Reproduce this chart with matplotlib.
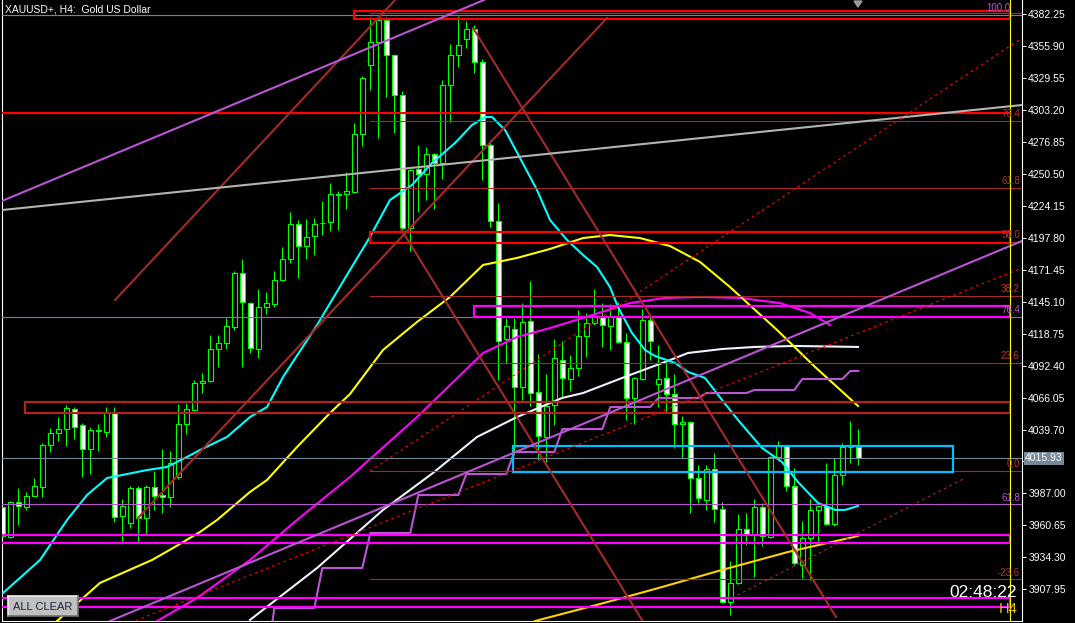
import numpy as np
import matplotlib
matplotlib.use("Agg")
import matplotlib.pyplot as plt
import matplotlib.transforms as mtransforms
from matplotlib.patches import Rectangle, Polygon
from matplotlib.lines import Line2D

plt.rcParams['font.family'] = ['Liberation Sans', 'DejaVu Sans']

# XAUUSD+ H4 candles, oldest first (bar index 0..107)
opens = [3975.8, 3951.1, 3980.0, 3975.8, 3984.9, 3992.3, 4027.0, 4036.9, 4040.1, 4056.6,
         4043.4, 4023.7, 4038.5, 4037.7, 4054.2, 3968.4, 3962.6, 3991.5, 3966.8, 3992.3,
         3985.7, 3984.1, 4000.6, 4044.3, 4055.8, 4078.1, 4079.7, 4106.1, 4111.1, 4124.3,
         4168.8, 4144.0, 4106.1, 4140.7, 4143.2, 4163.0, 4180.3, 4209.2, 4191.0, 4199.3,
         4209.6, 4210.8, 4233.5, 4233.9, 4235.6, 4283.4, 4340.3, 4359.3, 4377.4, 4348.5,
         4315.6, 4205.9, 4254.5, 4250.4, 4266.9, 4259.5, 4323.8, 4348.5, 4361.7, 4370.0,
         4342.8, 4274.3, 4211.7, 4114.4, 4122.6, 4074.8, 4129.2, 4070.7, 4033.6, 4059.9,
         4097.0, 4081.4, 4090.4, 4116.8, 4127.6, 4132.5, 4125.1, 4132.5, 4111.9, 4065.7,
         4081.4, 4130.0, 4077.3, 4082.2, 4069.0, 4044.3, 4045.9, 3999.7, 3981.6, 4007.2,
         3974.2, 3897.5, 3913.2, 3957.7, 3952.7, 3975.8, 3951.1, 4017.1, 4026.1, 3993.1,
         3928.0, 3950.3, 3973.4, 3976.7, 3961.8, 4002.2, 4024.9, 4025.3]
highs = [3979.1, 3980.8, 3991.5, 3988.2, 3999.7, 4028.6, 4041.0, 4050.0, 4059.9, 4058.3,
         4045.1, 4041.8, 4044.3, 4058.3, 4058.3, 3982.4, 3993.1, 3993.1, 3994.0, 4005.5,
         4023.7, 4022.0, 4060.8, 4061.6, 4080.5, 4086.3, 4117.7, 4117.7, 4131.7, 4170.4,
         4180.3, 4144.9, 4155.6, 4153.1, 4170.4, 4190.2, 4219.1, 4212.5, 4213.3, 4214.1,
         4228.2, 4243.0, 4236.4, 4252.1, 4292.5, 4331.2, 4379.9, 4379.9, 4379.9, 4349.4,
         4318.9, 4254.5, 4274.3, 4272.7, 4267.7, 4327.9, 4357.6, 4380.7, 4376.6, 4373.3,
         4345.3, 4278.5, 4226.5, 4131.7, 4131.7, 4144.0, 4162.2, 4102.0, 4085.5, 4114.4,
         4112.7, 4101.2, 4138.3, 4135.8, 4155.6, 4144.0, 4143.2, 4144.9, 4119.3, 4083.0,
         4139.1, 4132.5, 4109.4, 4094.6, 4085.5, 4050.9, 4046.7, 4010.5, 4010.5, 4020.4,
         3980.0, 3931.3, 3970.1, 3970.9, 3982.4, 3979.1, 4017.9, 4030.3, 4027.0, 4008.0,
         3964.3, 3982.4, 3977.5, 4012.1, 4016.2, 4028.6, 4046.7, 4040.1]
lows = [3950.3, 3950.3, 3961.0, 3973.4, 3984.9, 3984.1, 4021.2, 4030.3, 4026.1, 4031.9,
        4000.6, 4003.0, 4022.0, 4033.6, 3963.5, 3945.3, 3958.5, 3947.0, 3952.7, 3973.4,
        3970.9, 3975.8, 3998.9, 4036.0, 4055.0, 4069.8, 4078.9, 4091.3, 4106.1, 4121.8,
        4091.3, 4102.8, 4098.7, 4135.0, 4140.7, 4162.2, 4177.0, 4164.7, 4180.3, 4183.6,
        4200.1, 4203.4, 4204.2, 4221.6, 4234.8, 4273.5, 4319.7, 4280.1, 4313.9, 4284.2,
        4201.8, 4186.9, 4219.1, 4229.0, 4221.6, 4246.3, 4293.3, 4338.7, 4354.3, 4333.7,
        4245.5, 4206.7, 4080.5, 4094.6, 4018.7, 4064.1, 4059.1, 4014.6, 4012.9, 4043.4,
        4065.7, 4071.5, 4083.9, 4099.5, 4125.9, 4107.8, 4105.3, 4111.1, 4047.6, 4044.3,
        4080.5, 4097.0, 4058.3, 4054.2, 4024.5, 4016.2, 3970.9, 3979.1, 3973.4, 3963.5,
        3896.7, 3886.8, 3912.3, 3944.5, 3918.1, 3943.7, 3950.3, 4016.2, 3989.0, 3928.0,
        3917.3, 3915.6, 3947.0, 3961.0, 3960.2, 3994.0, 4012.1, 4010.5]
closes = [3951.9, 3980.0, 3976.7, 3984.9, 3993.1, 4027.0, 4036.9, 4040.1, 4057.5, 4041.8,
          4023.7, 4039.3, 4039.3, 4054.2, 3967.6, 3976.7, 3991.5, 3966.8, 3992.3, 3984.9,
          3984.1, 4012.1, 4044.3, 4056.6, 4078.1, 4079.7, 4106.1, 4111.1, 4125.1, 4168.8,
          4144.9, 4106.9, 4140.7, 4144.0, 4163.0, 4180.3, 4209.2, 4191.0, 4198.5, 4209.2,
          4210.4, 4233.9, 4233.9, 4236.4, 4283.4, 4329.6, 4359.3, 4377.4, 4348.5, 4315.6,
          4205.9, 4253.7, 4250.4, 4266.9, 4259.5, 4323.8, 4348.5, 4356.8, 4370.0, 4342.8,
          4274.3, 4211.7, 4112.7, 4125.1, 4074.8, 4128.4, 4069.8, 4034.4, 4059.1, 4098.7,
          4082.2, 4090.4, 4116.8, 4127.6, 4132.5, 4125.9, 4132.5, 4111.9, 4065.7, 4082.2,
          4130.0, 4112.7, 4081.4, 4069.0, 4044.3, 4045.9, 3999.7, 3983.3, 4007.2, 3974.2,
          3897.5, 3913.2, 3957.7, 3952.7, 3975.8, 3951.9, 4017.1, 4026.1, 3993.1, 3929.7,
          3950.3, 3973.4, 3976.7, 3961.8, 4002.2, 4025.3, 4025.3, 4015.93]
last_price = 4015.93

# moving averages (bar index, price)
cyan_x = [0.09, 4.71, 8.09, 10.59, 13.09, 18.09, 20.59, 23.09, 24.71, 28.09,
          30.96, 33.09, 35.09, 39.34, 43.46, 45.96, 48.46, 51.21, 53.71, 56.59,
          58.71, 60.34, 61.21, 62.84, 64.71, 66.84, 68.46, 70.59, 72.59, 74.34,
          75.96, 76.96, 78.71, 80.34, 81.59, 84.09, 85.71, 87.84, 89.96, 91.96,
          94.96, 97.46, 99.46, 101.96, 104.09, 105.34, 106.96]
cyan_y = [3904.9, 3932.1, 3965.1, 3985.7, 3999.7, 4006.3, 4008.8, 4017.1, 4022.8, 4033.6,
          4050.0, 4058.3, 4083.0, 4125.9, 4171.3, 4198.5, 4229.0, 4241.4, 4259.5, 4276.0,
          4290.8, 4297.4, 4297.4, 4286.7, 4263.6, 4237.2, 4212.5, 4196.0, 4183.6, 4173.7,
          4157.2, 4140.7, 4119.3, 4105.3, 4100.3, 4094.6, 4087.2, 4082.2, 4064.1, 4047.6,
          4024.5, 4012.9, 3996.4, 3979.1, 3973.4, 3973.4, 3976.7]
yellow_x = [6.84, 12.21, 18.71, 21.34, 24.71, 26.84, 30.96, 33.09, 36.84, 40.96,
            43.46, 47.59, 51.84, 55.96, 60.09, 64.34, 68.46, 72.59, 75.96, 79.71,
            83.46, 87.21, 90.96, 94.09, 96.84, 101.59, 106.96]
yellow_y = [3881.8, 3913.2, 3932.1, 3942.0, 3955.2, 3965.1, 3988.2, 3998.1, 4025.3, 4053.3,
            4069.0, 4105.3, 4128.4, 4149.0, 4175.4, 4181.2, 4188.6, 4197.6, 4200.1, 4197.6,
            4191.0, 4177.9, 4157.2, 4138.3, 4121.8, 4091.3, 4059.1]
magenta_x = [19.34, 24.34, 30.96, 36.84, 43.46, 51.84, 60.09, 64.34, 68.46, 72.59,
             78.46, 82.84, 87.21, 92.21, 97.21, 100.96, 103.46]
magenta_y = [3881.8, 3900.8, 3932.1, 3965.1, 4000.6, 4050.0, 4102.8, 4116.0, 4123.4, 4131.7,
             4144.0, 4148.2, 4149.0, 4148.2, 4144.0, 4135.8, 4125.9]
white_x = [30.96, 39.34, 47.59, 53.84, 59.34, 64.34, 69.96, 72.59, 78.46, 82.84,
           85.71, 89.96, 94.09, 99.09, 106.96]
white_y = [3882.7, 3925.5, 3973.4, 4003.9, 4033.6, 4050.0, 4065.7, 4069.8, 4084.7, 4095.4,
           4102.8, 4106.1, 4107.8, 4108.6, 4107.8]
gold_x = [66.59, 74.71, 81.59, 89.96, 98.21, 106.96]
gold_y = [3881.8, 3895.8, 3908.2, 3923.9, 3938.7, 3951.9]

# stepped trailing line: bar where each step starts, and its level
step_start = [34, 40, 46, 52, 58, 64, 70, 76, 82, 88, 94, 100, 106]
step_level = [3892.5, 3925.5, 3954.4, 3985.7, 4003.0, 4021.2, 4040.1, 4058.3,
              4065.7, 4069.8, 4072.3, 4081.4, 4088.0]

# rectangles: left bar, right bar, low, high
rect_left = [44.0, 45.96, 2.84, 58.9, 63.84, -1.0, -1.0]
rect_right = [125.96, 125.96, 125.96, 125.96, 118.84, 125.96, 125.96]
rect_low = [4378.2, 4193.5, 4053.3, 4132.1, 4004.7, 3946.1, 3893.4]
rect_high = [4384.8, 4202.6, 4062.4, 4141.6, 4026.1, 3952.7, 3900.8]
rect_colors = ['#ff0000', '#ff0000', '#b22222', '#ff00ff', '#00bfff', '#ff00ff', '#ff00ff']

red_hline = 4300.7
vline_bar = 125.96

# trend lines: (bar0, price0, bar1, price1)
brown_lines = [(14.09, 4146.5, 49.09, 4393.9), (16.96, 3966.8, 75.59, 4379.1),
               (58.84, 4370.8, 104.21, 3885.1), (49.84, 4205.1, 79.96, 3882.6)]
orchid_lines = [(-0.04, 4228.2, 60.2, 4393.9), (13.46, 3881.8, 127.46, 4195.2)]
gray_line = (-0.04, 4220.7, 127.46, 4307.3)
red_dot_lines = [(45.96, 4005.5, 127.46, 4362.6), (15.96, 3880.2, 127.46, 4172.9)]
brown_dot_line = (91.21, 3900.8, 120.34, 3999.7)

# fibonacci retracements
fib1_lo, fib1_hi, fib1_start = 4005.3, 4383.3, 45.96
fib1_levels = [100.0, 76.4, 61.8, 50.0, 38.2, 23.6, 0.0, -23.6]
fib2_lo, fib2_hi = 3324.6, 4381.8
fib2_levels = [100.0, 76.4, 61.8]

price_ticks = [4382.25, 4355.90, 4329.55, 4303.20, 4276.85, 4250.50, 4224.15, 4197.80,
               4171.45, 4145.10, 4118.75, 4092.40, 4066.05, 4039.70, 4013.35, 3987.00,
               3960.65, 3934.30, 3907.95]

W, H = 1075, 623
fig = plt.figure(figsize=(W / 100, H / 100), dpi=100, facecolor='black')
ax = fig.add_axes([2 / W, 2 / H, 1020 / W, 621 / H], facecolor='black')
X0, X1 = -0.04, 127.46
ax.set_xlim(X0, X1)
ax.set_ylim(3881.8, 4393.9)

# candles
bars = np.arange(len(opens))
o = np.array(opens); c = np.array(closes)
ax.vlines(bars, lows, highs, color='#00ff00', lw=0.8, zorder=2)
body_lo = np.minimum(o, c)
body_h = np.maximum(np.abs(c - o), 0.6)
fills = ['white' if cc < oo else 'black' for oo, cc in zip(opens, closes)]
ax.bar(bars, body_h, bottom=body_lo, width=0.62, color=fills,
       edgecolor='#00ff00', linewidth=0.8, zorder=3)

# indicators
lw2 = 1.5
ax.plot(white_x, white_y, color='#f0f0ff', lw=lw2, zorder=4)
ax.plot(magenta_x, magenta_y, color='#ff00ff', lw=lw2, zorder=4)
ax.plot(yellow_x, yellow_y, color='#ffff00', lw=lw2, zorder=4)
ax.plot(gold_x, gold_y, color='#ffd200', lw=lw2, zorder=4)
ax.plot(cyan_x, cyan_y, color='#00ffff', lw=lw2, zorder=4)

sx, sy = [step_start[0] - 0.3], [3878.0]
for s, v in zip(step_start, step_level):
    sx += [s, min(s + 5, 107)]
    sy += [v, v]
ax.plot(sx, sy, color='#ba55d3', lw=lw2, zorder=4)

# fib levels
trans_right = mtransforms.blended_transform_factory(ax.transAxes, ax.transData)
for lv in fib2_levels:
    p = fib2_lo + lv / 100 * (fib2_hi - fib2_lo)
    ax.plot([X0, X1], [p, p], color='#ba55d3', lw=0.8, zorder=5)
    xl = 125.96 if lv == 100 else 127.2
    ax.text(xl, p + 1.5, '%.1f' % lv, color='#ba55d3', fontsize=7, ha='right', va='bottom', zorder=6)
for lv in fib1_levels:
    p = fib1_lo + lv / 100 * (fib1_hi - fib1_lo)
    ax.plot([fib1_start, X1], [p, p], color='#a52a2a', lw=0.8, zorder=5)
    if lv != 100:
        ax.text(127.2, p + 1.5, '%.1f' % lv, color='#b83434', fontsize=7, ha='right', va='bottom', zorder=6)

# current price line
ax.axhline(last_price, color='#778899', lw=0.8, zorder=5)

# rectangles
for l, r, lo, hi, col in zip(rect_left, rect_right, rect_low, rect_high, rect_colors):
    ax.add_patch(Rectangle((l, lo), r - l, hi - lo, fill=False, edgecolor=col, lw=1.6, zorder=5))
ax.plot([X0, vline_bar], [red_hline, red_hline], color='#ff0000', lw=1.6, zorder=5)

# trend lines
for x0, y0, x1, y1 in brown_lines:
    ax.plot([x0, x1], [y0, y1], color='#a52a2a', lw=lw2, zorder=5)
for x0, y0, x1, y1 in orchid_lines:
    ax.plot([x0, x1], [y0, y1], color='#ba55d3', lw=lw2, zorder=5)
ax.plot(gray_line[::2], gray_line[1::2], color='#b4b4b4', lw=lw2, zorder=5)
for x0, y0, x1, y1 in red_dot_lines:
    ax.plot([x0, x1], [y0, y1], color='#ff0000', lw=0.8, ls=(0, (2.5, 3)), zorder=5)
ax.plot(brown_dot_line[::2], brown_dot_line[1::2], color='#a52a2a', lw=0.8, ls=(0, (2.5, 3)), zorder=5)

ax.axvline(vline_bar, color='#ffff00', lw=0.8, zorder=5)

# axes styling; the label under the live price box is hidden as in the terminal
ax.set_xticks([])
ax.yaxis.tick_right()
ax.set_yticks(price_ticks)
ax.set_yticklabels(['' if abs(t - last_price) < 5 else '%.2f' % t for t in price_ticks])
ax.tick_params(axis='y', colors='white', labelsize=7.5, length=3, width=0.7, pad=1.5)
for side in ['left', 'right', 'bottom']:
    ax.spines[side].set_color('white')
    ax.spines[side].set_linewidth(0.8)
ax.spines['top'].set_visible(False)

ax.text(1 + 3 / 1020, last_price, '%.2f' % last_price, transform=trans_right, color='white',
        fontsize=7.5, va='center', ha='left', zorder=10, clip_on=False,
        bbox=dict(boxstyle='square,pad=0.12', fc='#778899', ec='none'))

# title, clock, timeframe
fig.text(5 / W, 1 - 12.5 / H, 'XAUUSD+, H4:  Gold US Dollar', color='white', fontsize=7.5, va='baseline')
fig.text(1017 / W, 1 - 597 / H, '02:48:22', color='white', fontsize=12.5, ha='right', va='baseline')
fig.text(1017 / W, 1 - 613 / H, 'H4', color='#e8c800', fontsize=10.5, ha='right', va='baseline')

# shift marker
fig.patches.append(Polygon([(854 / W, 1 - 1 / H), (862 / W, 1 - 1 / H), (858 / W, 1 - 7 / H)],
                           closed=True, transform=fig.transFigure, color='#9a9a9a'))

# ALL CLEAR button
bx0, by0, bx1, by1 = 8, 596, 78, 616
fig.patches.append(Rectangle((bx0 / W, 1 - by1 / H), (bx1 - bx0) / W, (by1 - by0) / H,
                             transform=fig.transFigure, facecolor='#c0c0c0', edgecolor='none', zorder=20))
for (xa, ya, xb, yb, col) in [(bx0, by0, bx1, by0, '#f0f0f0'), (bx0, by0, bx0, by1, '#f0f0f0'),
                              (bx0, by1, bx1, by1, '#707070'), (bx1, by0, bx1, by1, '#707070')]:
    fig.lines.append(Line2D([xa / W, xb / W], [1 - ya / H, 1 - yb / H], transform=fig.transFigure,
                            color=col, lw=1.2, zorder=21))
fig.text((bx0 + bx1) / 2 / W, 1 - 606.5 / H, 'ALL CLEAR', color='#1a2440', fontsize=8,
         ha='center', va='center', zorder=22)

fig.savefig('out.png', dpi=100, facecolor='black')
